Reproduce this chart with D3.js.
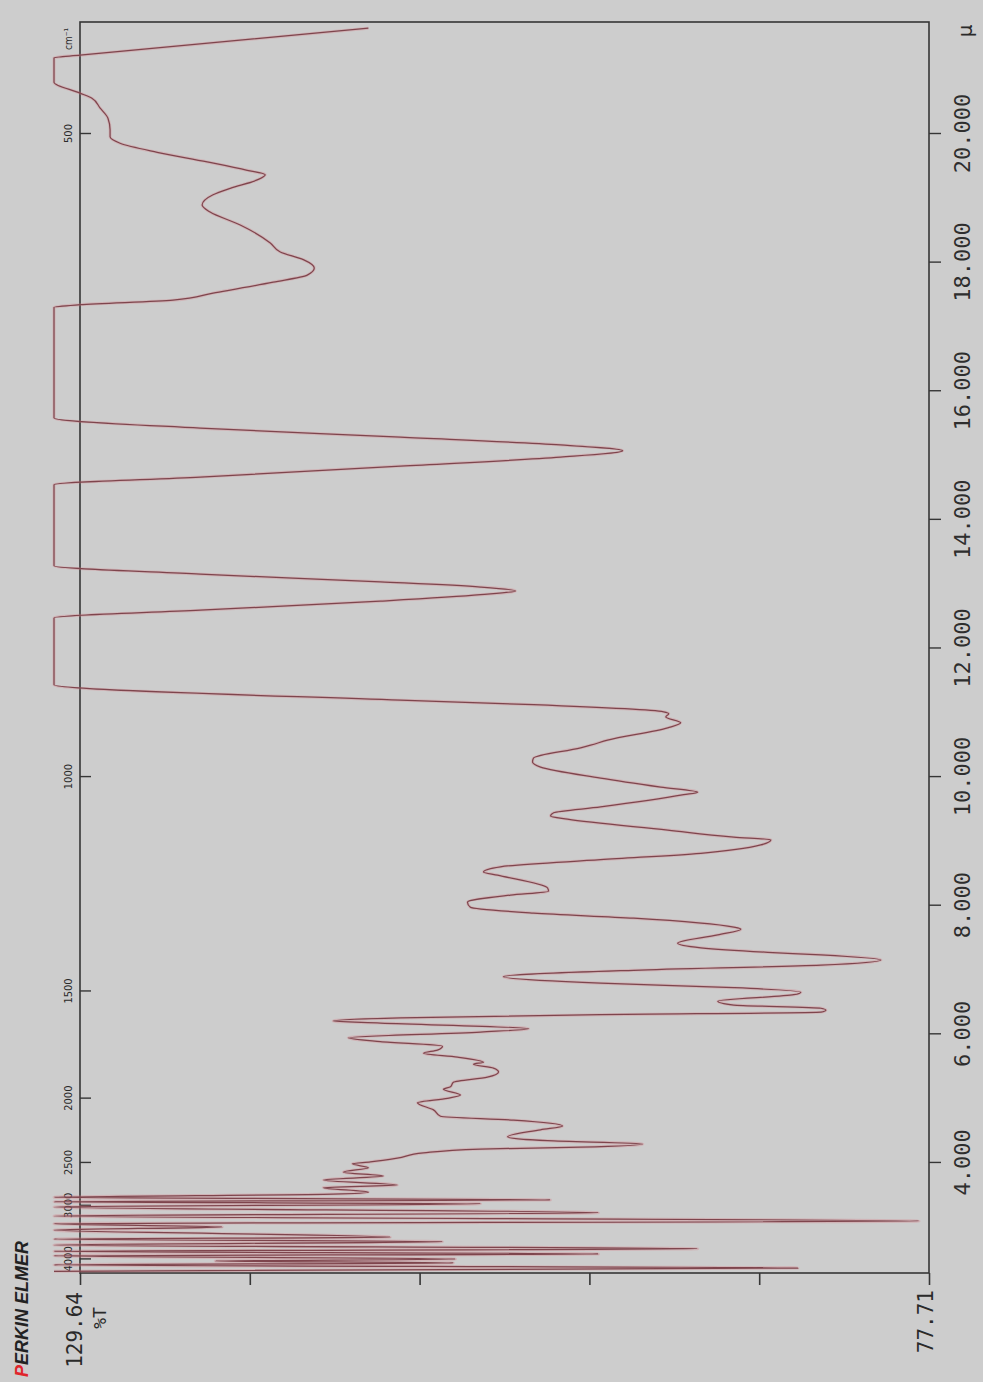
<!DOCTYPE html>
<html><head><meta charset="utf-8">
<script src="https://cdn.jsdelivr.net/npm/d3@7"></script>
<style>html,body{margin:0;padding:0;background:#cdcdcd;} svg{display:block;}</style>
</head><body>
<svg id="c" width="983" height="1382"></svg>
<script>
// Wavelength (micron) of each traced point, in drawing order
const wavelength = [
 21.63,21.21,21.17,20.79,20.62,20.54,20.39,20.23,20.05,19.94,
 19.84,19.70,19.55,19.42,19.35,19.27,19.14,19.04,18.88,18.77,
 18.57,18.29,18.15,18.03,17.90,17.79,17.68,17.51,17.40,17.33,17.29,
 15.57,15.41,15.27,15.15,15.06,14.96,14.82,14.65,14.53,
 13.27,13.14,13.02,12.94,12.88,12.82,12.72,12.58,12.46,
 11.42,11.18,11.11,11.00,10.97,10.92,10.83,10.75,10.56,10.48,
 10.44,10.28,10.22,10.14,9.97,9.83,9.75,9.71,9.52,9.43,
 9.38,9.33,9.16,9.05,9.01,8.93,8.80,8.70,8.59,8.51,
 8.46,8.26,8.21,8.15,8.04,7.96,7.87,7.79,7.65,7.62,
 7.53,7.40,7.33,7.26,7.22,7.14,7.06,6.98,6.88,6.78,
 6.71,6.64,6.60,6.50,6.44,6.39,6.36,6.33,6.29,6.24,
 6.19,6.16,6.07,6.02,5.93,5.87,5.80,5.74,5.69,5.63,
 5.55,5.52,5.46,5.40,5.32,5.24,5.17,5.13,5.04,4.99,
 4.92,4.81,4.71,4.65,4.56,4.50,4.39,4.33,4.28,4.23,
 4.20,4.14,4.06,4.00,3.97,3.91,3.84,3.78,3.72,3.64,
 3.60,3.53,3.50,
 3.45,3.41,3.38,3.35,3.30,3.21,3.16,3.08,3.04,2.99,
 2.94,2.83,2.80,2.76,2.71,2.65,2.61,2.57,2.54,2.49,
 2.46,2.43,2.40,2.35,2.30
];
// %T of each traced point (values above 129.64 run off the frame, as in the print)
const transmittance = [
 112.00,129.64,131.23,131.23,129.64,128.91,128.42,127.93,127.80,127.80,
 127.19,124.92,121.86,119.41,118.31,118.80,120.45,121.50,122.17,121.68,
 119.84,118.00,117.39,115.98,115.31,115.74,117.82,121.50,123.95,129.64,131.23,
 131.23,122.29,110.04,100.25,96.45,100.25,110.04,122.29,131.23,
 131.23,122.29,111.27,105.14,103.00,105.14,111.27,122.29,131.23,
 131.23,110.04,101.90,93.94,93.63,93.81,92.90,93.69,97.37,98.41,
 99.02,101.90,101.96,101.47,97.80,94.12,91.86,92.71,97.80,100.67,
 100.86,99.82,93.69,89.65,87.38,88.00,91.67,97.80,103.92,104.96,
 104.10,101.04,100.98,103.31,105.94,105.76,101.90,95.77,89.65,89.22,
 90.63,93.08,91.67,87.57,84.32,80.65,84.32,95.77,103.74,97.80,
 89.65,85.55,85.98,90.63,89.65,84.32,84.02,84.32,97.80,110.04,
 114.15,111.27,102.20,105.14,113.23,111.27,107.47,107.78,108.63,106.55,
 104.96,105.57,104.35,104.04,104.72,106.80,106.98,107.41,106.37,107.16,
 109.00,108.02,107.59,103.12,100.12,101.47,103.49,101.04,95.22,99.02,
 105.14,108.63,110.23,111.88,112.98,112.00,113.53,111.08,114.76,110.23,
 114.76,112.00,114.15,
 131.23,100.86,131.23,105.14,131.23,97.92,131.23,78.32,131.23,120.94,
 131.23,110.66,131.23,107.47,131.23,91.86,131.23,97.92,131.23,106.67,
 121.37,106.80,131.23,85.73,131.23
];
const tRange = [129.64, 77.71];          // %T at left and right frame edges
const lambdaRange = [21.726, 2.273];     // micron at top and bottom frame edges
const micronTicks = [4, 6, 8, 10, 12, 14, 16, 18, 20];
const wavenumberTicks = [500, 1000, 1500, 2000, 2500, 3000, 4000];
const tDivisions = 5;
const brandRed = "P", brandRest = "ERKIN ELMER";

const svg = d3.select('#c');
const L = 80, R = 929, T = 22, B = 1273;
const x = d3.scaleLinear().domain(tRange).range([L, R]);
const y = d3.scaleLinear().domain(lambdaRange).range([T, B]);
const axisColor = '#363636';

svg.append('rect').attr('width', 983).attr('height', 1382).attr('fill', '#cdcdcd');

// frame
svg.append('rect').attr('x', L).attr('y', T).attr('width', R - L).attr('height', B - T)
  .attr('fill', 'none').attr('stroke', axisColor).attr('stroke-width', 1.6);

// bottom %T ticks
const tTickVals = d3.range(tDivisions + 1).map(i => tRange[0] + i * (tRange[1] - tRange[0]) / tDivisions);
const bottomAxis = d3.axisBottom(x).tickValues(tTickVals).tickFormat('').tickSize(12).tickSizeOuter(0);
const gb = svg.append('g').attr('transform', `translate(0,${B})`).call(bottomAxis);
gb.select('.domain').remove();
gb.selectAll('line').attr('stroke', axisColor).attr('stroke-width', 1.6);

// right micron axis
const rightAxis = d3.axisRight(y).tickValues(micronTicks).tickSize(12).tickSizeOuter(0)
  .tickFormat(d => d.toFixed(3));
const gr = svg.append('g').attr('transform', `translate(${R},0)`).call(rightAxis);
gr.select('.domain').remove();
gr.selectAll('line').attr('stroke', axisColor).attr('stroke-width', 1.4);
gr.selectAll('text').attr('x', null).attr('dy', null)
  .attr('transform', 'translate(41,0) rotate(-90)').attr('text-anchor', 'middle')
  .attr('fill', '#2e2e2e').style('font-family', '"DejaVu Sans Mono", monospace').style('font-size', '22px');

// left wavenumber axis (ticks inward)
const leftAxis = d3.axisRight(y).tickValues(wavenumberTicks.map(v => 1e4 / v)).tickSize(11).tickSizeOuter(0)
  .tickFormat((d, i) => wavenumberTicks[i]);
const gl = svg.append('g').attr('transform', `translate(${L},0)`).call(leftAxis);
gl.select('.domain').remove();
gl.selectAll('line').attr('stroke', axisColor).attr('stroke-width', 1.4);
gl.selectAll('text').attr('x', null).attr('dy', null)
  .attr('transform', 'translate(-8,0) rotate(-90)').attr('text-anchor', 'middle')
  .attr('fill', '#2a2a2a').style('font-family', '"Liberation Sans Narrow","DejaVu Sans Condensed",sans-serif').style('font-size', '11px');

svg.append('text').attr('transform', `translate(72,${T + 17}) rotate(-90)`).attr('text-anchor', 'middle')
  .attr('fill', '#2a2a2a').style('font-family', '"DejaVu Sans Condensed",sans-serif').style('font-size', '10px').text('cm⁻¹');

// spectrum
const pts = d3.zip(wavelength, transmittance);
const line = d3.line().x(d => x(d[1])).y(d => y(d[0])).curve(d3.curveMonotoneY);
svg.append('path').attr('d', line(pts)).attr('fill', 'none')
  .attr('stroke', 'rgba(215,120,130,0.3)').attr('stroke-width', 3).attr('stroke-linejoin', 'round');
svg.append('path').attr('d', line(pts)).attr('fill', 'none')
  .attr('stroke', '#7e454d').attr('stroke-width', 1.25).attr('stroke-linejoin', 'round');

// end labels
const mono = '"DejaVu Sans Mono", monospace';
svg.append('text').attr('transform', `translate(82,${B + 19}) rotate(-90)`).attr('text-anchor', 'end')
  .attr('fill', '#2a2a2a').style('font-family', mono).style('font-size', '21px').text(tRange[0].toFixed(2));
svg.append('text').attr('transform', `translate(106,${B + 45}) rotate(-90)`).attr('text-anchor', 'middle')
  .attr('fill', '#2a2a2a').style('font-family', mono).style('font-size', '18px').text('%T');
svg.append('text').attr('transform', `translate(933,${B + 17}) rotate(-90)`).attr('text-anchor', 'end')
  .attr('fill', '#2a2a2a').style('font-family', mono).style('font-size', '21px').text(tRange[1].toFixed(2));
svg.append('text').attr('transform', `translate(972,31) rotate(-90)`).attr('text-anchor', 'middle')
  .attr('fill', '#2a2a2a').style('font-family', '"DejaVu Sans", sans-serif').style('font-size', '20px').text('μ');

const brand = svg.append('text').attr('transform', 'translate(28,1377) rotate(-90)').attr('text-anchor', 'start')
  .style('font-family', '"Liberation Sans", Arial, sans-serif').style('font-size', '18px')
  .style('font-weight', 'bold').style('font-style', 'italic');
brand.append('tspan').attr('fill', '#e0252b').text(brandRed);
brand.append('tspan').attr('fill', '#222').text(brandRest);
</script>
</body></html>
